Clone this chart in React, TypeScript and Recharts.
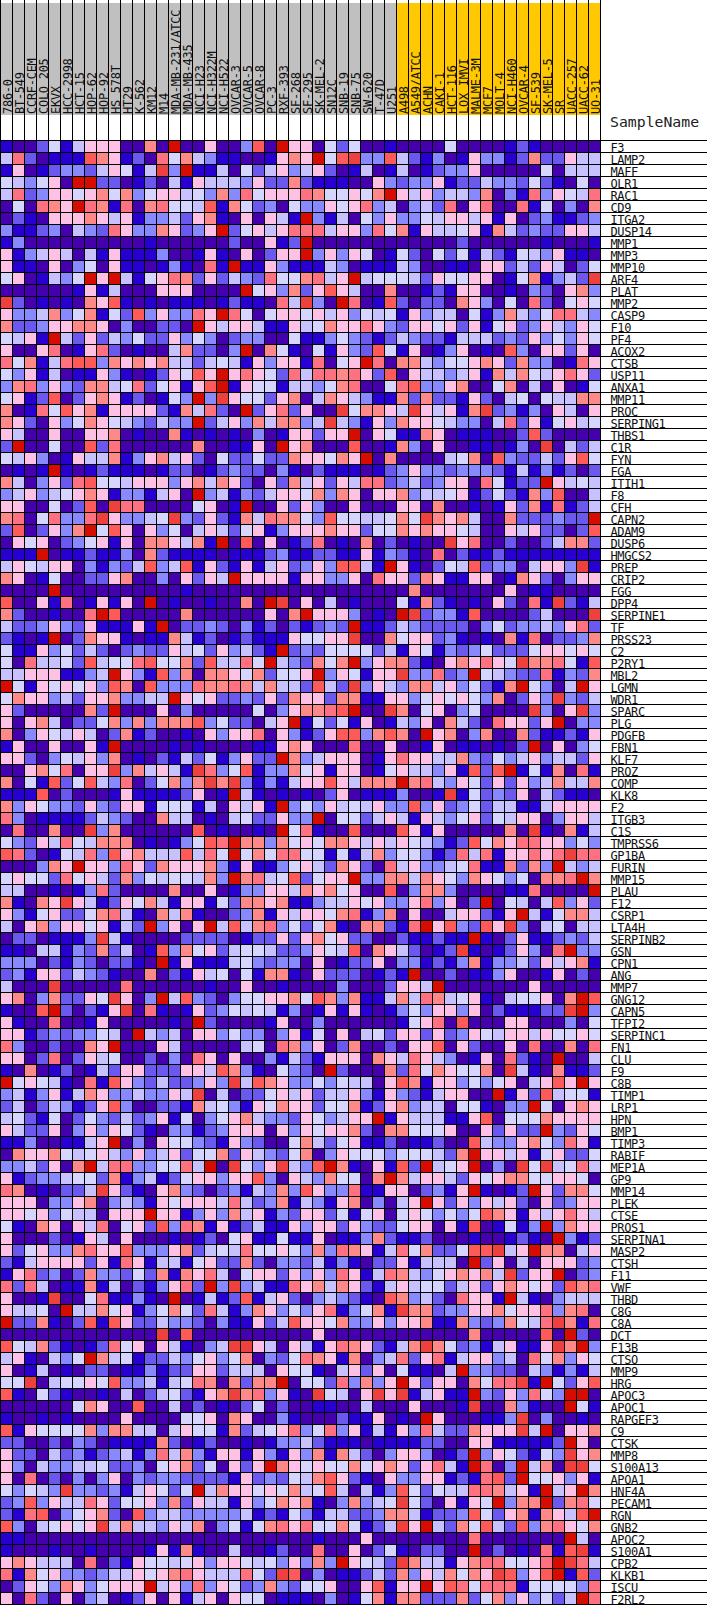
import { ScatterChart, Scatter, XAxis, YAxis } from "recharts";

const greySamples = ["786-0","BT-549","CCRF-CEM","COLO 205","EKVX","HCC-2998","HCT-15","HOP-62","HOP-92","HS 578T","HT29","K-562","KM12","M14","MDA-MB-231/ATCC","MDA-MB-435","NCI-H23","NCI-H322M","NCI-H522","OVCAR-3","OVCAR-5","OVCAR-8","PC-3","RXF-393","SF-268","SF-295","SK-MEL-2","SN12C","SNB-19","SNB-75","SW-620","T-47D","U251"];
const yellowSamples = ["A498","A549/ATCC","ACHN","CAKI-1","HCT-116","LOX IMVI","MALME-3M","MCF7","MOLT-4","NCI-H460","OVCAR-4","SF-539","SK-MEL-5","SR","UACC-257","UACC-62","UO-31"];
const samples = [...greySamples, ...yellowSamples];

const genes = ["F3","LAMP2","MAFF","OLR1","RAC1","CD9","ITGA2","DUSP14","MMP1","MMP3","MMP10","ARF4","PLAT","MMP2","CASP9","F10","PF4","ACOX2","CTSB","USP11","ANXA1","MMP11","PROC","SERPING1","THBS1","C1R","FYN","FGA","ITIH1","F8","CFH","CAPN2","ADAM9","DUSP6","HMGCS2","PREP","CRIP2","FGG","DPP4","SERPINE1","TF","PRSS23","C2","P2RY1","MBL2","LGMN","WDR1","SPARC","PLG","PDGFB","FBN1","KLF7","PROZ","COMP","KLK8","F2","ITGB3","C1S","TMPRSS6","GP1BA","FURIN","MMP15","PLAU","F12","CSRP1","LTA4H","SERPINB2","GSN","CPN1","ANG","MMP7","GNG12","CAPN5","TFPI2","SERPINC1","FN1","CLU","F9","C8B","TIMP1","LRP1","HPN","BMP1","TIMP3","RABIF","MEP1A","GP9","MMP14","PLEK","CTSE","PROS1","SERPINA1","MASP2","CTSH","F11","VWF","THBD","C8G","C8A","DCT","F13B","CTSO","MMP9","HRG","APOC3","APOC1","RAPGEF3","C9","CTSK","MMP8","S100A13","APOA1","HNF4A","PECAM1","RGN","GNB2","APOC2","S100A1","CPB2","KLKB1","ISCU","F2RL2"];

const palette = ["#4500AD","#2700D1","#6B58EF","#8888FF","#C7C1FF","#D5D5FF","#FFC0E5","#FF8989","#FF7080","#FF5A5A","#EF4040","#D60C00"];

// one string per gene, one base-12 digit per sample (index into palette)
const levels = [
"1002514666 0070b00600 390b660525 0010000500 0012100000",
"4820111976 1208574311 001676b59a 3394213016 3312722644",
"1601233246 514a3b1140 5246346201 4014012336 0000050444",
"54356 0bb22 0120416444 3622721110 0632336122 4332521050",
"4823665675 7356645373 8566687556 57b6463443 7031836548",
"050876b871 8078554917 5230533656 8340342806 8008150307",
"0210666764 6133426710 60641b3140 5363354664 6160231123",
"3112304328 63376236b2 5646888466 3857164456 1742322664",
"1300000000 0010000002 00612b0000 0000000020 0000010001",
"6134640416 1113001610 60266b3636 5015205251 4215436110",
"6110603506 110131081b 1163111430 1114300110 6624264025",
"5601435b6b 4156872624 328557846b 4555426556 601571342a",
"0000001614 0006660000 b563726964 0070012166 0010320673",
"a201010769 1010111012 11084a30b8 0192022076 3050820565",
"6334735715 29363386b8 5056656463 5451634405 1374358843",
"7223667760 300220b646 6411645766 8632665626 1562364365",
"5461b42624 3522635302 3300511353 2124322144 4232635365",
"6006801682 0100472203 b075105163 2951601360 1093066260",
"8571489937 6767442454 1636618056 b807743556 7627330186",
"5361401163 10126596b6 8652848878 6290644346 1747546862",
"3783632774 58256169b1 6551443578 0058933670 0570406015",
"5612902676 120153b3a6 5526704764 3117272216 2045054477",
"7018596716 6662174820 b2682600a5 7764a64617 a231306406",
"7620635765 432433b246 3747734a43 1637665433 0482615645",
"6400600667 0100710101 030166266b 0651176011 1002920000",
"2b00500928 0000007001 160b670009 0017306001 10130a0424",
"5463016447 1367462052 2522766576 b070000457 0932242695",
"0101b10121 1101220123 2203102111 0123633233 3214131202",
"7403628955 4666367476 2062746264 8823423660 85122b6454",
"3463456761 331460b341 3246657376 0667344561 2521739004",
"660050290a 8800005601 b006263006 0006607001 0162718124",
"78058338a6 3345a32621 7487753955 44575a7674 007222322b",
"2902637b59 6063504642 5613666766 2557676654 0064622029",
"0656023561 60776471b0 9060128010 7020100a68 0020024772",
"111b011211 3072111101 1123112211 6132108021 1211111111",
"4654660313 2493491621 6146236399 41b6102549 23304663a1",
"7601500226 700306264b 6666166336 0866276116 6017620366",
"0000b00000 0000010000 0000000000 0000700000 0060110000",
"9006180161 60b0100100 70ba060401 0005172101 062081a214",
"72001008b9 0000070000 00607b6663 010ba23319 000024000a",
"4223632611 161b022320 312021232b 1124322220 3523343682",
"2101b02766 1011741201 211165566a 0075662310 1071802237",
"5116352420 2322645263 421b232555 5241651323 5222566565",
"5084452945 5895572944 85b432757b 3677210676 865a778519",
"446661134b 6319370776 572556b365 166a33823b 5432281327",
"b516565639 7093338778 747442942a 3643774635 217b5304b6",
"5766342667 3344b65622 3262766277 1166356565 370263a324",
"620000072b 0006030000 050367789b 00a7056035 0000a306a3",
"6067402257 3737779352 2046b15251 6014360742 086626b033",
"7036546402 7120010636 6806312699 37970b6703 7007211216",
"160060061b 0000101000 0116760008 0060016011 0102b06035",
"6620354637 0102142513 622b734666 0168664473 2534634426",
"006758066a 374641a835 9133756166 0156443619 29b1517081",
"7051925943 8025737a7a 3131466964 777b784365 2626347447",
"1119020001 611112601b 4101010260 1113001a15 2326042110",
"7365332632 6615551406 461b353645 4633936235 2441146666",
"8301111243 2007440104 522633b055 2464164356 2546603664",
"0800700a37 0000009010 010b581009 0009616000 0070a10714",
"5326485477 701013598b 7737565776 4646543129 5768866353",
"9820154839 674449485b 5758855151 4735531284 8166868a88",
"000376b663 8627666731 6113564276 2084633458 117273b434",
"5655285642 735455473b 784592566b 3377476537 65350778b7",
"4400101382 0000700601 3366476756 0090377300 001180000b",
"71076a6412 6574166152 7767113446 5633683602 b054049362",
"6315622578 4107471002 3716466578 1370600466 216b415774",
"4067366561 42b3606b49 4783525710 77218b6932 96a3045044",
"02201113a4 1000022220 1226267562 200211211b 1026112324",
"1104413272 4019375624 5542236549 07642012a1 0126308b33",
"3330213202 210b161114 5323306012 2603312137 1334264671",
"2316624321 0070216450 5177106222 0121b00201 1360016020",
"4000a00000 8000000100 6001000030 002664b000 0000600000",
"670372265a 603b493203 5566759737 1147487456 10455607b9",
"1009b20216 a081016235 4541301616 1013536636 0211122ab3",
"6100800160 000010b200 0016003000 0001568090 0066000305",
"6612323354 0b43406635 3303615060 4526626236 5466465565",
"830020076b 0006400000 4508736027 0020669062 0060800708",
"6602802645 0020308606 0031421666 0764864301 608210b004",
"1070120142 6622266497 3105320b20 0072857655 70a4107112",
"b565410819 632422363a 4976335354 4069716635 35604696b6",
"3413614763 343364a040 2256462446 3163214660 0b16294551",
"2402431269 3002217453 1657662557 1267344055 1033b50676",
"4521502532 4236150356 7433265346 6b16444116 9055576666",
"6422603636 5210331236 6606365667 2077555600 62622b3265",
"113001146b 0306553216 3200574256 1120112009 4336753861",
"0766754564 3634625572 6432570365 553555427b 6646156225",
"3342607b48 8335584b0a 536a439b71 06192b456b 030a5a4584",
"6123345527 1341256636 6930643755 07b7466426 5677556650",
"87010224a6 2106732023 1437396338 116602316b 1012b62775",
"6660336703 4316566648 4237143167 03046b6263 6462062366",
"6656354406 66b6613637 4613266251 5605653535 9761646864",
"5107606480 5629387161 2411636626 3225660619 01513b3766",
"6000201640 6000101205 6115116011 3721120001 001210b312",
"6256337866 9333672454 8556537387 6148572259 9a46b77046",
"2146666261 8614415622 7203324131 022614440b 2604066623",
"1682302733 2527176840 5662636386 1487435676 74a266b023",
"8284011714 0213682b3a 3411867476 2146455246 2676562978",
"6001a00581 1310b01412 9146203432 1097342086 61b4103444",
"64450b4475 6135752841 3763536813 571a772336 6756683780",
"b227102919 6224332031 1624966573 3636671173 237548a718",
"0000000000 000a090000 0000006000 0000000007 0000090b20",
"9547210128 560641034a a640641687 62147a7523 146116a7b3",
"4610435b74 5122435635 7032587617 0348268146 6340857365",
"6014010220 1131226624 4406551046 26051104b3 3220431314",
"55a0455659 3341458707 277b055283 736b626607 588a1b5269",
"9105210010 402452167a 783610a540 6a6a14611b 3263853bb0",
"0000005760 0900402010 2502001100 400060001a 0073100b51",
"1001010000 6000055607 6003100021 16010b6000 113a030010",
"9165555737 7440465517 2456835836 1416384227 666a4b0667",
"2200203201 1117201200 1013342111 0111122006 6111112b60",
"6220423123 4138473166 1631637174 203663012b 3652153a67",
"6304334452 2305672506 26b7656557 567626841b 803b470aa5",
"6080203036 0323322221 6232547962 1063366121 892b556361",
"53543a3323 146525b476 6565745940 4139525448 87461b46b7",
"2393644862 5563726441 6357671037 345a520616 5b377b2785",
"2189035672 0934433333 4121531442 2377412239 526717649b",
"93045656a4 7443647035 1578685575 124a6b4275 9429378657",
"1100000000 0000000000 0000001000 6000000008 0000000b40",
"1000100100 0016171004 0012008006 025102200b 02010819a1",
"6764440802 1655456366 54536373b6 542a744167 885568ba84",
"8175633234 4656786444 852a903011 2427364757 6a9369b192",
"0265376356 66b4638365 2373255600 69166b6985 8881555538",
"6082060340 1260614606 5501110301 5717722272 57363524b8",
];

const CELL = 12;
const MONO = "'DejaVu Sans Mono', monospace";

const cells = levels.flatMap((row, r) =>
  row
    .replace(/ /g, "")
    .split("")
    .map((ch, c) => ({ x: c + 0.5, y: r + 0.5, level: parseInt(ch, 12) }))
);

const xTicks = samples.map((_, i) => i + 0.5);
const yTicks = genes.map((_, i) => i + 0.5);

function HeatCell(props: any) {
  const { cx, cy, payload } = props;
  return (
    <rect
      x={cx - CELL / 2 + 0.5}
      y={cy - CELL / 2 + 0.5}
      width={CELL}
      height={CELL}
      fill={palette[payload.level]}
      stroke="#000"
      strokeWidth={1}
    />
  );
}

function SampleTick(props: any) {
  const { x, y, payload } = props;
  const i = Math.floor(payload.value);
  const isLast = i === samples.length - 1;
  const textX = x + 5.7;
  const textY = y - 26;
  return (
    <g>
      <rect
        x={x - CELL / 2}
        y={y - 137}
        width={CELL}
        height={112}
        fill={i < greySamples.length ? "#C0C0C0" : "#FFC800"}
      />
      <line x1={x - 5.5} x2={x - 5.5} y1={y - 140} y2={y} stroke="#000" />
      {isLast && <line x1={x + 6.5} x2={x + 6.5} y1={y - 140} y2={y} stroke="#000" />}
      <text
        x={textX}
        y={textY}
        transform={`rotate(-90 ${textX} ${textY})`}
        fontFamily={MONO}
        fontSize={12}
        letterSpacing={-0.28}
        fill="#111"
      >
        {samples[i]}
      </text>
      {isLast && (
        <text x={x + 16} y={y - 13} fontFamily={MONO} fontSize={14.8} fill="#222">
          SampleName
        </text>
      )}
    </g>
  );
}

function GeneTick(props: any) {
  const { x, y, payload } = props;
  const i = Math.floor(payload.value);
  return (
    <g>
      {i === 0 && <line x1={x} x2={x + 107} y1={y - 5.5} y2={y - 5.5} stroke="#000" />}
      <text x={x + 10.5} y={y + 6.3} fontFamily={MONO} fontSize={12} letterSpacing={-0.35} fill="#111">
        {genes[i]}
      </text>
      <line x1={x} x2={x + 107} y1={y + 6.5} y2={y + 6.5} stroke="#000" />
    </g>
  );
}

export default function App() {
  return (
    <div style={{ position: "absolute", left: 0, top: 0, width: 707, height: 1605, background: "#fff" }}>
      <ScatterChart width={707} height={1605} margin={{ top: 0, right: 0, bottom: 1, left: 0 }}>
        <XAxis
          type="number"
          dataKey="x"
          orientation="top"
          domain={[0, samples.length]}
          ticks={xTicks}
          interval={0}
          height={140}
          tickSize={0}
          tickMargin={0}
          axisLine={false}
          tickLine={false}
          tick={<SampleTick />}
        />
        <YAxis
          type="number"
          dataKey="y"
          orientation="right"
          reversed
          domain={[0, genes.length]}
          ticks={yTicks}
          interval={0}
          width={107}
          tickSize={0}
          tickMargin={0}
          axisLine={false}
          tickLine={false}
          tick={<GeneTick />}
        />
        <Scatter data={cells} shape={<HeatCell />} isAnimationActive={false} />
      </ScatterChart>
    </div>
  );
}
